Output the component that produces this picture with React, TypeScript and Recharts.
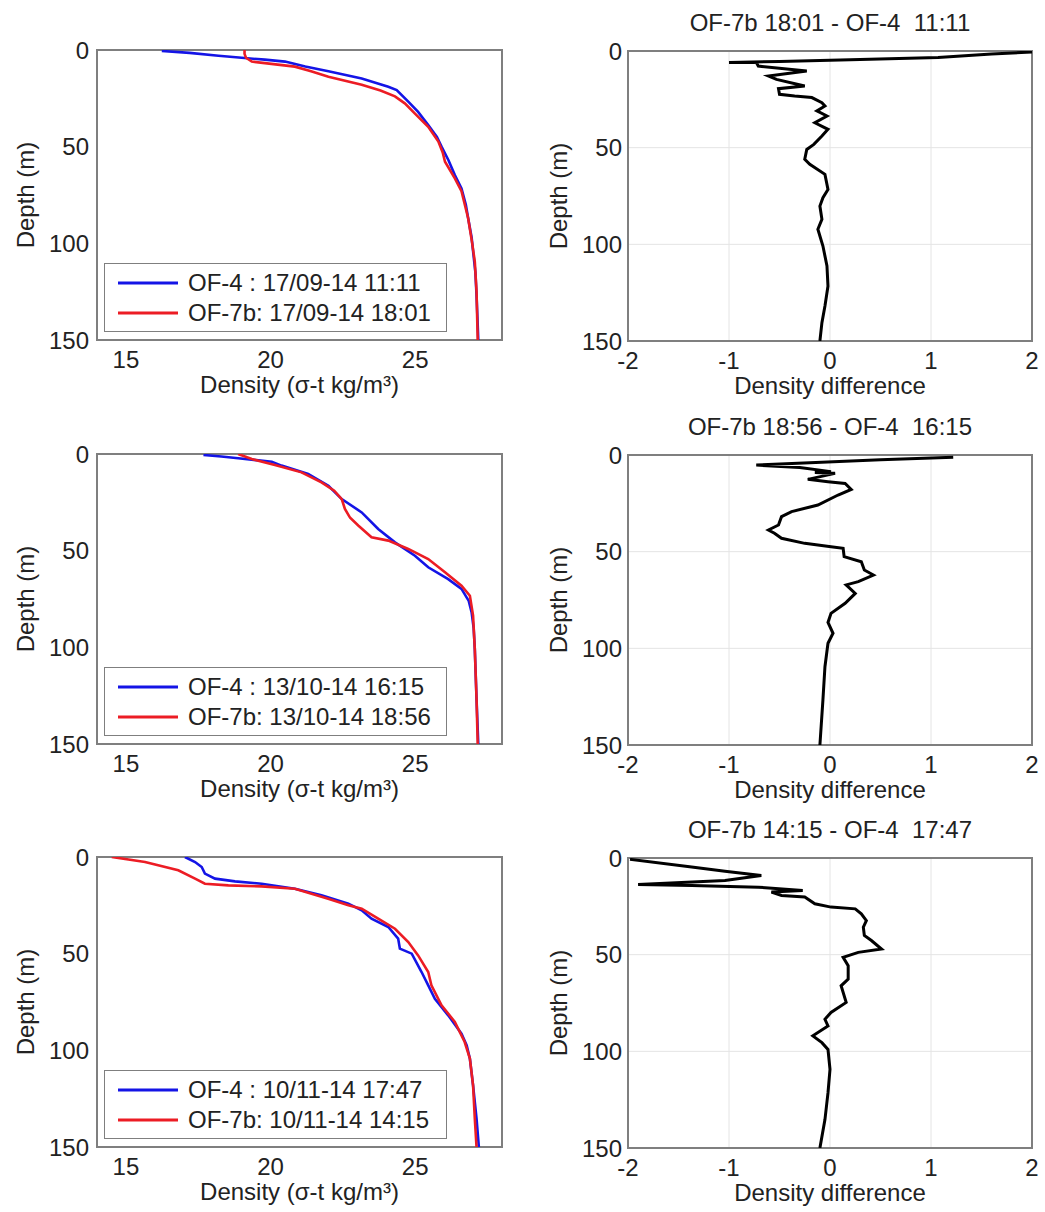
import React from 'react';
import { LineChart, Line, XAxis, YAxis, CartesianGrid, ReferenceArea, Legend } from 'recharts';

const FONT = '"Liberation Sans", Arial, Helvetica, sans-serif';
const TEXT = '#222222';
const BLUE = '#1414e6';
const RED = '#ec1c24';
const BORDER = '#7f7f7f';

// ---- Density profiles: [density (sigma-t), depth (m)] ----
const sepOF4: [number, number][] = [
  [16.24, 0.5], [17.2, 1.5], [18.2, 3], [19.0, 4], [19.8, 5], [20.5, 6], [21.2, 8.5], [22.0, 11],
  [23.15, 14.7], [24.07, 19], [24.36, 20.7], [24.76, 26.7], [25.1, 32], [25.45, 38.8], [25.75, 45],
  [25.91, 50], [26.15, 57], [26.37, 64.7], [26.6, 71.6], [26.75, 80], [26.83, 87], [26.95, 97],
  [27.0, 104], [27.08, 115], [27.12, 127], [27.15, 138], [27.18, 150],
];
const sepOF7b: [number, number][] = [
  [19.1, 0], [19.1, 2], [19.15, 4], [19.35, 6], [20.1, 7.3], [20.84, 8.6], [21.4, 11], [22.0, 13.8],
  [23.15, 18], [23.8, 21], [24.3, 24], [24.64, 27.6], [25.0, 33], [25.45, 39.7], [25.8, 47.4],
  [25.95, 53], [26.03, 57.8], [26.37, 66.4], [26.6, 73], [26.83, 87], [26.97, 100], [27.06, 109.5],
  [27.12, 125], [27.16, 150],
];
const octOF4: [number, number][] = [
  [17.68, 0.5], [18.3, 1.3], [18.88, 2.2], [20.04, 4], [20.38, 6], [21.3, 10.3], [22.0, 16.4],
  [22.46, 23.3], [23.15, 30.2], [23.72, 38.8], [24.3, 45.7], [24.99, 52.6], [25.45, 58.6],
  [26.14, 64.7], [26.6, 69.8], [26.85, 76], [26.95, 81.9], [27.02, 90], [27.06, 100.9],
  [27.12, 126.7], [27.18, 150],
];
const octOF7b: [number, number][] = [
  [18.88, 0], [19.35, 2.6], [20.15, 5.7], [21.07, 9.5], [21.76, 14.7], [22.2, 19], [22.46, 23.3],
  [22.57, 28.4], [22.75, 33], [23.03, 37], [23.49, 43.1], [24.07, 44.8], [24.76, 49.1],
  [25.45, 54.3], [26.03, 61.2], [26.6, 68.1], [26.89, 73.3], [27.0, 83.6], [27.06, 100.9],
  [27.12, 126.7], [27.16, 150],
];
const novOF4: [number, number][] = [
  [17.04, 0], [17.39, 2.6], [17.62, 5.2], [17.73, 8.6], [18.08, 11.2], [18.77, 12.6], [19.69, 13.8],
  [20.84, 16.4], [21.76, 19.8], [22.69, 24.1], [23.15, 27.6], [23.49, 31.9], [24.07, 36.2],
  [24.41, 42.2], [24.47, 47.4], [24.88, 50], [25.22, 59.5], [25.45, 66.4], [25.68, 73.3],
  [26.14, 81.9], [26.6, 91.4], [26.78, 97.4], [26.89, 104.3], [27.0, 118.1], [27.12, 135.3],
  [27.2, 150],
];
const novOF7b: [number, number][] = [
  [14.51, 0], [15.66, 2.6], [16.81, 6.9], [17.39, 11.2], [17.73, 13.8], [18.54, 14.7], [19.69, 15.2],
  [20.84, 16.4], [21.99, 21.6], [22.69, 25], [23.15, 26.7], [23.72, 31.9], [24.3, 37.1],
  [24.76, 44], [25.1, 50.9], [25.45, 59.5], [25.56, 66.4], [25.91, 76.7], [26.37, 85.3],
  [26.71, 95.7], [26.89, 104.3], [27.0, 118.1], [27.06, 135.3], [27.12, 150],
];

// ---- Density differences: [difference, depth (m)] ----
const sepDiff: [number, number][] = [
  [2.0, 0.5], [1.6, 1.5], [1.07, 3.4], [0.2, 4.5], [-0.5, 5.4], [-1.0, 6.0], [-0.73, 5.8],
  [-0.71, 7.8], [-0.23, 10.3], [-0.61, 12.9], [-0.53, 14.7], [-0.25, 18.1], [-0.51, 19.5],
  [-0.5, 22.4], [-0.35, 23.3], [-0.18, 24.1], [-0.08, 26.7], [-0.05, 28.4], [-0.13, 31],
  [-0.03, 33.6], [-0.15, 37.1], [-0.02, 40.5], [-0.08, 44], [-0.16, 48.3], [-0.23, 50.9],
  [-0.25, 56], [-0.2, 58.6], [-0.05, 63.8], [-0.02, 71.6], [-0.07, 75.9], [-0.1, 80.2],
  [-0.08, 87], [-0.12, 92.2], [-0.07, 100.9], [-0.03, 111.2], [-0.02, 121.6], [-0.05, 131.9],
  [-0.08, 140.5], [-0.1, 150],
];
const octDiff: [number, number][] = [
  [1.22, 1.2], [0.5, 2.5], [-0.2, 4], [-0.73, 5.2], [-0.3, 6.5], [0.01, 8.6], [-0.15, 9],
  [0.05, 9.5], [-0.22, 12.6], [-0.02, 13.8], [0.15, 14.7], [0.21, 17.8], [0.08, 20.7],
  [-0.12, 25.9], [-0.38, 29.3], [-0.48, 31.9], [-0.51, 36.2], [-0.61, 38.8], [-0.55, 40.5],
  [-0.48, 43.1], [-0.25, 45.7], [0.01, 47.4], [0.13, 48.3], [0.14, 52.6], [0.31, 55.2],
  [0.34, 59.5], [0.43, 62.1], [0.28, 65.5], [0.16, 67.2], [0.25, 71.6], [0.15, 76.7],
  [0.01, 81.9], [-0.02, 86.6], [0.03, 92.2], [-0.02, 97.4], [-0.05, 109.5], [-0.07, 126.7],
  [-0.1, 150],
];
const novDiff: [number, number][] = [
  [-1.98, 0.7], [-1.37, 4.7], [-1.04, 6.9], [-0.68, 9.0], [-1.04, 11.6], [-1.9, 13.7],
  [-1.37, 14.2], [-0.71, 15.1], [-0.27, 16.8], [-0.58, 17.6], [-0.48, 19.4], [-0.25, 20.2],
  [-0.15, 23.7], [0.01, 25.4], [0.25, 26.3], [0.31, 28.9], [0.36, 32.4], [0.33, 35.8],
  [0.34, 40.1], [0.41, 42.7], [0.51, 47.1], [0.28, 48.8], [0.13, 51.4], [0.18, 55.7],
  [0.18, 62.6], [0.11, 66.1], [0.16, 74.7], [0.01, 79.9], [-0.05, 83.4], [-0.02, 86.9],
  [-0.17, 92.0], [-0.08, 95.5], [-0.02, 99], [0.0, 109.3], [-0.02, 121.5], [-0.05, 135.3],
  [-0.1, 150],
];

const densityTicks = [15, 20, 25];
const diffTicks = [-2, -1, 0, 1, 2];
const depthTicks = [0, 50, 100, 150];

const legendOF4 = ['OF-4 : 17/09-14 11:11', 'OF-4 : 13/10-14 16:15', 'OF-4 : 10/11-14 17:47'];
const legendOF7b = ['OF-7b: 17/09-14 18:01', 'OF-7b: 13/10-14 18:56', 'OF-7b: 10/11-14 14:15'];
const diffTitles = ['OF-7b 18:01 - OF-4  11:11', 'OF-7b 18:56 - OF-4  16:15', 'OF-7b 14:15 - OF-4  17:47'];

const profiles = [
  { of4: sepOF4, of7b: sepOF7b, diff: sepDiff },
  { of4: octOF4, of7b: octOF7b, diff: octDiff },
  { of4: novOF4, of7b: novOF7b, diff: novDiff },
];
const rowTops = [50, 454, 857];

const toPts = (arr: [number, number][]) => arr.map(([x, depth]) => ({ x, depth }));

const tickStyle = { fontSize: 24, fill: TEXT, fontFamily: FONT };
const labelStyle = { fontSize: 24, fill: TEXT, fontFamily: FONT };

function LegendBox({ a, b }: { a: string; b: string }) {
  const row = (color: string, text: string, y: number) => (
    <div style={{ position: 'absolute', left: 0, top: y - 14, height: 28, display: 'flex', alignItems: 'center' }}>
      <svg width={80} height={28} style={{ display: 'block' }}>
        <line x1={13} y1={14} x2={73} y2={14} stroke={color} strokeWidth={3} />
      </svg>
      <span style={{ fontFamily: FONT, fontSize: 24, color: TEXT, whiteSpace: 'pre', marginLeft: 3 }}>{text}</span>
    </div>
  );
  return (
    <div style={{ position: 'relative', width: 343, height: 69, boxSizing: 'border-box', border: `1.5px solid ${BORDER}`, background: '#fff' }}>
      {row(BLUE, a, 19)}
      {row(RED, b, 49)}
    </div>
  );
}

function DensityPanel({ top, idx }: { top: number; idx: number }) {
  const p = profiles[idx];
  return (
    <div style={{ position: 'absolute', left: 0, top: top - 50 }}>
      <LineChart width={520} height={420} margin={{ top: 50, right: 18, bottom: 0, left: 0 }}>
        <XAxis
          type="number" dataKey="x" domain={[14, 28]} ticks={densityTicks} allowDataOverflow
          tickLine={false} axisLine={false} tickSize={0} tickMargin={11} height={80}
          tick={tickStyle}
          label={{ value: 'Density (σ-t kg/m³)', position: 'insideBottom', offset: 27, style: labelStyle }}
        />
        <YAxis
          type="number" domain={[0, 150]} ticks={depthTicks} reversed allowDataOverflow
          tickLine={false} axisLine={false} tickSize={0} tickMargin={8} width={97}
          tick={tickStyle}
          label={{ value: 'Depth (m)', angle: -90, position: 'insideLeft', offset: 25, style: { ...labelStyle, textAnchor: 'middle' } }}
        />
        <ReferenceArea x1={14} x2={28} y1={0} y2={150} fill="none" stroke={BORDER} strokeWidth={2} />
        <Line data={toPts(p.of4)} dataKey="depth" stroke={BLUE} strokeWidth={2.6} dot={false} isAnimationActive={false} />
        <Line data={toPts(p.of7b)} dataKey="depth" stroke={RED} strokeWidth={2.6} dot={false} isAnimationActive={false} />
        <Legend
          layout="horizontal" verticalAlign="middle" align="center"
          wrapperStyle={{ left: 104, top: 263, width: 343, height: 69 }}
          content={() => <LegendBox a={legendOF4[idx]} b={legendOF7b[idx]} />}
        />
      </LineChart>
    </div>
  );
}

function DiffPanel({ top, idx }: { top: number; idx: number }) {
  const p = profiles[idx];
  return (
    <div style={{ position: 'absolute', left: 520, top: top - 50 }}>
      <div style={{ position: 'absolute', left: 108, width: 404, top: 8, textAlign: 'center', fontFamily: FONT, fontSize: 24, color: TEXT, whiteSpace: 'pre', lineHeight: '28px' }}>
        {diffTitles[idx]}
      </div>
      <LineChart width={525} height={420} margin={{ top: 50, right: 13, bottom: 0, left: 0 }}>
        <CartesianGrid stroke="#e4e4e4" strokeWidth={1} />
        <XAxis
          type="number" dataKey="x" domain={[-2, 2]} ticks={diffTicks} allowDataOverflow
          tickLine={false} axisLine={false} tickSize={0} tickMargin={11} height={80}
          tick={tickStyle}
          label={{ value: 'Density difference', position: 'insideBottom', offset: 27, style: labelStyle }}
        />
        <YAxis
          type="number" domain={[0, 150]} ticks={depthTicks} reversed allowDataOverflow
          tickLine={false} axisLine={false} tickSize={0} tickMargin={6} width={108}
          tick={tickStyle}
          label={{ value: 'Depth (m)', angle: -90, position: 'insideLeft', offset: 38, style: { ...labelStyle, textAnchor: 'middle' } }}
        />
        <ReferenceArea x1={-2} x2={2} y1={0} y2={150} fill="none" stroke={BORDER} strokeWidth={2} />
        <Line data={toPts(p.diff)} dataKey="depth" stroke="#000000" strokeWidth={3} dot={false} isAnimationActive={false} />
      </LineChart>
    </div>
  );
}

export default function App() {
  return (
    <div style={{ position: 'absolute', left: 0, top: 0, width: 1045, height: 1212, background: '#fff' }}>
      {rowTops.map((t, i) => (
        <React.Fragment key={i}>
          <DensityPanel top={t} idx={i} />
          <DiffPanel top={t + 1} idx={i} />
        </React.Fragment>
      ))}
    </div>
  );
}
